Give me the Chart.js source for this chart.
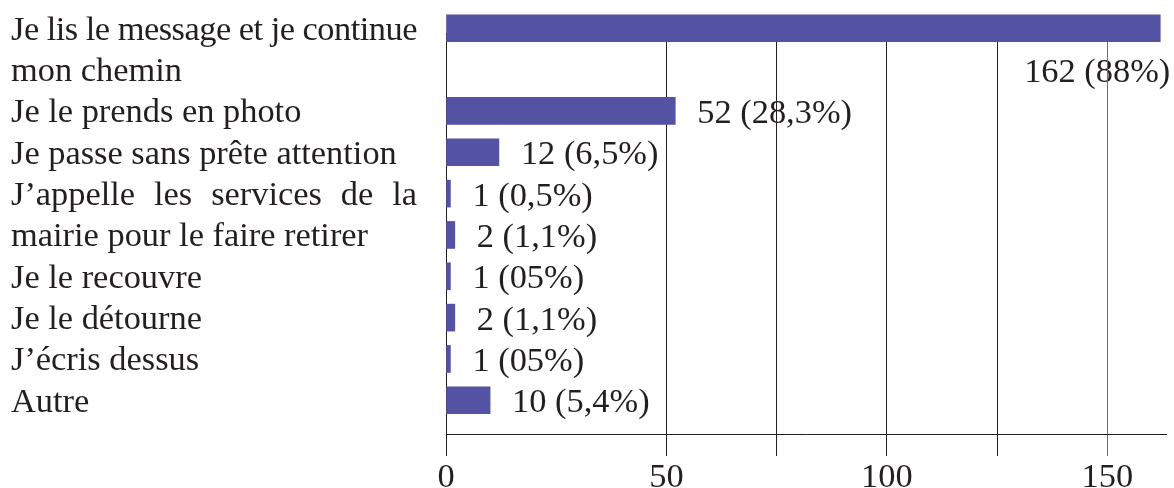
<!DOCTYPE html>
<html lang="fr">
<head>
<meta charset="utf-8">
<title>Réactions face au message</title>
<script src="https://cdn.jsdelivr.net/npm/chart.js@4/dist/chart.umd.min.js"></script>
<style>
  html, body { margin: 0; padding: 0; overflow: hidden; background: #fff; }
  .chart { position: relative; width: 1174px; height: 500px; }
</style>
</head>
<body>
<div class="chart"><canvas id="bar-chart"></canvas></div>
<script>
// answers, already broken into the lines they take in the left column
const answers = [
  ['Je lis le message et je continue', 'mon chemin'],
  ['Je le prends en photo'],
  ['Je passe sans prête attention'],
  ['J’appelle les services de la', 'mairie pour le faire retirer'],
  ['Je le recouvre'],
  ['Je le détourne'],
  ['J’écris dessus'],
  ['Autre']
]

// bars, each one sits on a text row of the left column
const barRows = [0, 2, 3, 4, 5, 6, 7, 8, 9]
const counts = [162, 52, 12, 1, 2, 1, 2, 1, 10]
const shares = ['88%', '28,3%', '6,5%', '0,5%', '1,1%', '05%', '1,1%', '05%', '5,4%']

const xTicks = [0, 50, 75, 100, 125, 150]
const xLabels = [0, 50, 100, 150]

const INK = '#231f20'
const BAR = '#5452a2'
const FONT_FAMILY = '"Liberation Serif", "Times New Roman", serif'
const FONT = '34.4px ' + FONT_FAMILY

// one entry per text row, wrapped lines are justified except the last one
const lines = []
answers.forEach(a => {
  a.forEach((text, i) => lines.push({ text, justify: i < a.length - 1 }))
})

const textLeft = 11
const textRight = 417

function drawJustified(ctx, text, base) {
  const avail = textRight - textLeft
  const words = text.split(' ')
  const widths = words.map(w => ctx.measureText(w).width)
  const total = widths.reduce((a, b) => a + b, 0)
  const gap = (avail - total) / (words.length - 1)
  if (gap < ctx.measureText(' ').width) {
    // line too long: tighten the letters, keep normal spaces
    const natural = ctx.measureText(text).width
    ctx.letterSpacing = ((avail - natural) / text.length) + 'px'
    ctx.fillText(text, textLeft, base)
    ctx.letterSpacing = '0px'
    return
  }
  let cx = textLeft
  words.forEach((w, i) => {
    ctx.fillText(w, cx, base)
    cx += widths[i] + gap
  })
}

const texts = {
  id: 'texts',
  // drawn before the grid so the grid lines run across the numbers
  beforeDraw(chart) {
    const { ctx } = chart
    const x = chart.scales.x
    const y = chart.scales.y
    ctx.save()
    ctx.font = FONT
    ctx.fillStyle = INK
    ctx.textBaseline = 'alphabetic'
    ctx.textAlign = 'left'

    lines.forEach((line, row) => {
      const base = y.getPixelForValue(row) + 11.5
      if (line.justify) drawJustified(ctx, line.text, base)
      else ctx.fillText(line.text, textLeft, base)
    })

    counts.forEach((n, i) => {
      const label = n + ' (' + shares[i] + ')'
      const end = x.getPixelForValue(n)
      const w = ctx.measureText(label).width
      const row = barRows[i]
      if (end + 22 + w > chart.width) {
        // no room after the bar: put it on the row below, flush with the bar end
        ctx.textAlign = 'right'
        ctx.fillText(label, end + 10, y.getPixelForValue(row + 1) + 12)
      } else {
        ctx.textAlign = 'left'
        ctx.fillText(label, end + 22, y.getPixelForValue(row) + 12)
      }
    })
    ctx.restore()
  }
}

new Chart(document.getElementById('bar-chart'), {
  type: 'bar',
  data: {
    datasets: [{
      data: counts.map((n, i) => ({ x: n, y: barRows[i] })),
      backgroundColor: BAR,
      barThickness: 27,
      clip: false
    }]
  },
  options: {
    indexAxis: 'y',
    responsive: true,
    maintainAspectRatio: false,
    animation: false,
    events: [],
    layout: { padding: { left: 446, right: 8, top: 33, bottom: 0 } },
    plugins: {
      legend: { display: false },
      tooltip: { enabled: false }
    },
    scales: {
      // rows are 41.3px apart, the first one slightly above the plot top
      y: {
        type: 'linear',
        reverse: true,
        offset: false,
        min: 0.114,
        max: 9.816,
        display: false
      },
      x: {
        type: 'linear',
        min: 0,
        max: 163.3,
        afterBuildTicks: axis => {
          axis.ticks = xTicks.map(value => ({ value }))
        },
        ticks: {
          autoSkip: false,
          maxRotation: 0,
          padding: 3,
          color: INK,
          font: { family: FONT_FAMILY, size: 34.4, lineHeight: '38px' },
          callback: v => xLabels.includes(v) ? v : ''
        },
        grid: {
          color: c => c.tick && c.tick.value === 150 ? '#707070' : INK,
          tickColor: c => c.tick && c.tick.value === 150 ? '#707070' : INK,
          tickLength: 22,
          lineWidth: 1
        },
        border: { color: INK, width: 1 }
      }
    }
  },
  plugins: [texts]
})
</script>
</body>
</html>
